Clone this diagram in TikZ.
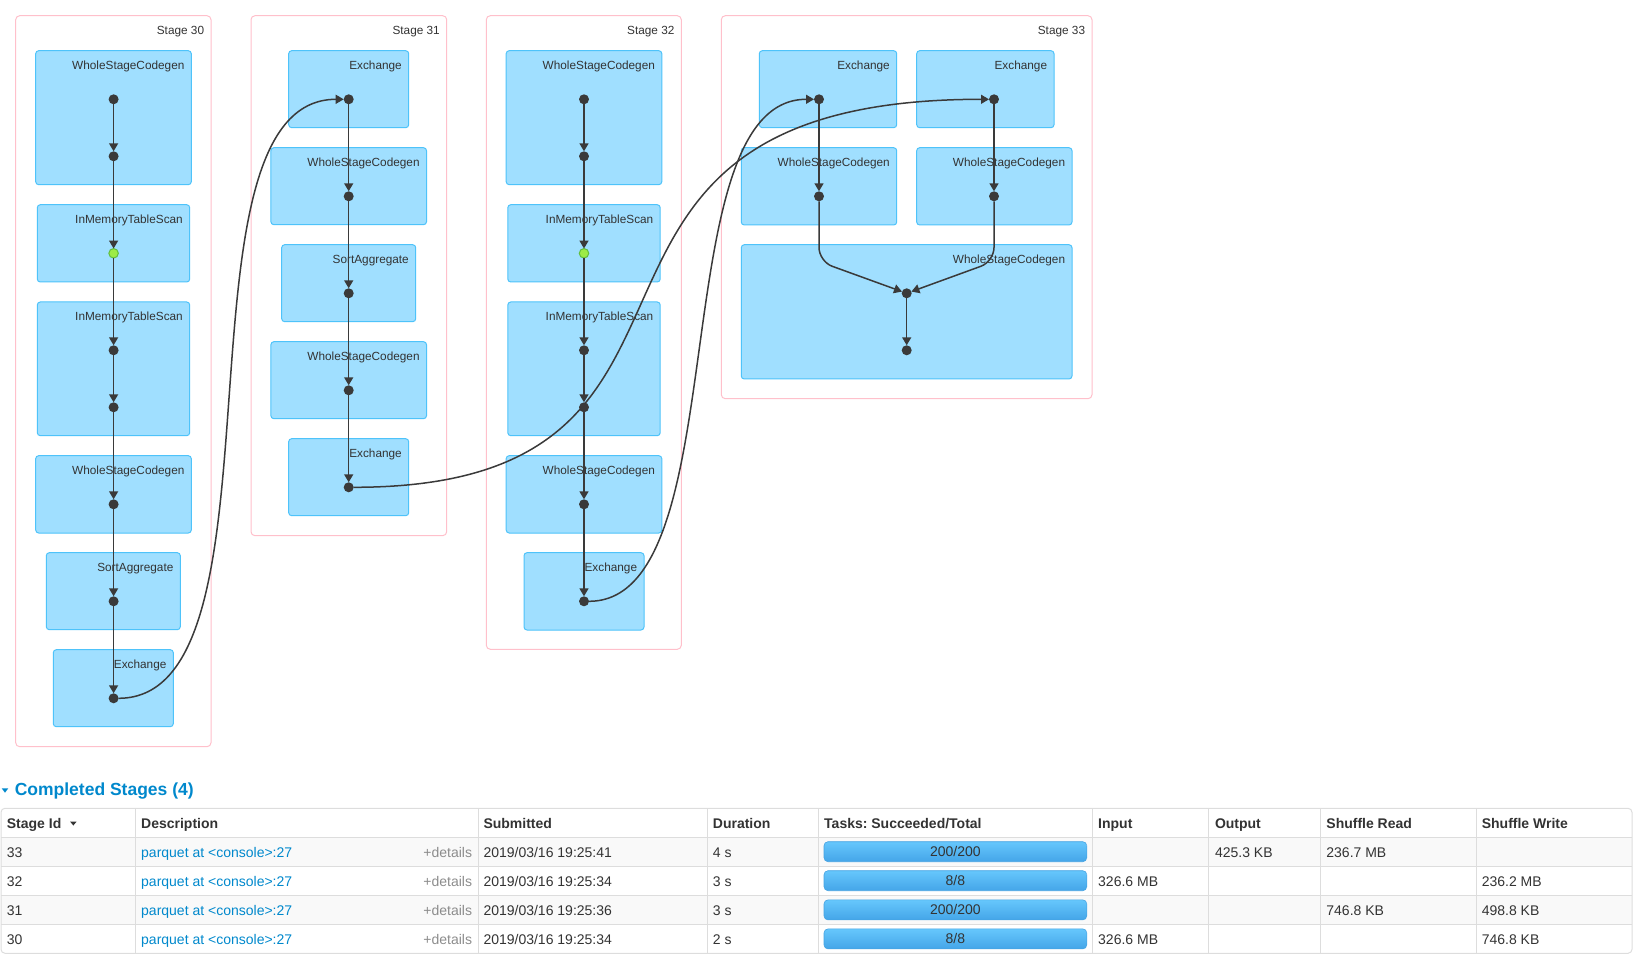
\documentclass[tikz,border=0pt]{standalone}
\usepackage{fontspec}
\setmainfont{Liberation Sans}
\usepackage{xcolor}
\usetikzlibrary{arrows.meta, calc}

\definecolor{opfill}{HTML}{A0DFFF}
\definecolor{opdraw}{HTML}{4EC3FA}
\definecolor{stagedraw}{HTML}{FFC0CB}
\definecolor{edgegray}{HTML}{3A3A3A}
\definecolor{cachefill}{HTML}{9DEB47}
\definecolor{cachedraw}{HTML}{62BE3E}
\definecolor{txt}{HTML}{333333}
\definecolor{link}{HTML}{0088CC}
\definecolor{gridgray}{HTML}{DDDDDD}
\definecolor{stripe}{HTML}{F9F9F9}
\definecolor{muted}{HTML}{8C8C8C}
\definecolor{bartop}{HTML}{66C7FC}
\definecolor{barbot}{HTML}{44A5E8}
\definecolor{bardraw}{HTML}{45A3E2}

\begin{document}
\frenchspacing
\begin{tikzpicture}[x=1pt, y=-1pt, >={Triangle[length=8pt, width=9pt]},
  every node/.style={text=txt},
  stagebox/.style={draw=stagedraw, line width=1pt, fill=white, rounded corners=4pt, inner sep=0pt, outer sep=0pt},
  opbox/.style={draw=opdraw, line width=1pt, fill=opfill, rounded corners=3pt, inner sep=0pt, outer sep=0pt},
  boxlabel/.style={anchor=base east, inner sep=0pt, font=\fontsize{11.8pt}{14pt}\selectfont},
  rdd/.style={circle, fill=edgegray, inner sep=0pt, outer sep=0pt, minimum size=10pt},
  cached/.style={rdd, fill=cachefill, draw=cachedraw, line width=1pt, minimum size=9.5pt},
  flow/.style={draw=edgegray, line width=1.5pt},
  cell/.style={anchor=west, inner sep=0pt, text height=10pt, text depth=0pt, font=\fontsize{14pt}{17pt}\selectfont},
  headcell/.style={cell, font=\fontsize{14pt}{17pt}\selectfont\bfseries},
  tablerule/.style={draw=gridgray, line width=1pt},
  taskbar/.style={cell, anchor=center, minimum width=262.8pt, minimum height=20pt, rounded corners=4pt, top color=bartop, bottom color=barbot, draw=bardraw, line width=0.6pt}]
  \useasboundingbox (0,0) rectangle (1633,957);

  % stages
  \node[stagebox, minimum width=195.3pt, minimum height=731pt] (stage30) at (113.35,381.2) {};
  \node[stagebox, minimum width=195.7pt, minimum height=520pt] (stage31) at (348.85,275.7) {};
  \node[stagebox, minimum width=195pt, minimum height=633.6pt] (stage32) at (583.8,332.5) {};
  \node[stagebox, minimum width=370.7pt, minimum height=383pt] (stage33) at (906.65,207.2) {};
  \node[boxlabel] (stage30t) at ($(stage30.north east)+(-6.7,18.8)$) {Stage 30};
  \node[boxlabel] (stage31t) at ($(stage31.north east)+(-6.7,18.8)$) {Stage 31};
  \node[boxlabel] (stage32t) at ($(stage32.north east)+(-6.7,18.8)$) {Stage 32};
  \node[boxlabel] (stage33t) at ($(stage33.north east)+(-6.7,18.8)$) {Stage 33};

  % stage 30
  \node[opbox, minimum width=155.6pt, minimum height=134pt] (wsc30a) at (113.5,117.7) {};
  \node[opbox, minimum width=152.4pt, minimum height=77.3pt] (imts30a) at (113.5,243.35) {};
  \node[opbox, minimum width=152.4pt, minimum height=133.7pt] (imts30b) at (113.5,368.85) {};
  \node[opbox, minimum width=155.6pt, minimum height=77.3pt] (wsc30b) at (113.5,494.35) {};
  \node[opbox, minimum width=134pt, minimum height=77pt] (agg30) at (113.3,591.2) {};
  \node[opbox, minimum width=120pt, minimum height=77pt] (exch30) at (113.3,688.2) {};
  \node[boxlabel] (wsc30at) at ($(wsc30a.north east)+(-6.7,18.8)$) {WholeStageCodegen};
  \node[boxlabel] (imts30at) at ($(imts30a.north east)+(-6.7,18.8)$) {InMemoryTableScan};
  \node[boxlabel] (imts30bt) at ($(imts30b.north east)+(-6.7,18.8)$) {InMemoryTableScan};
  \node[boxlabel] (wsc30bt) at ($(wsc30b.north east)+(-6.7,18.8)$) {WholeStageCodegen};
  \node[boxlabel] (agg30t) at ($(agg30.north east)+(-6.7,18.8)$) {SortAggregate};
  \node[boxlabel] (exch30t) at ($(exch30.north east)+(-6.7,18.8)$) {Exchange};

  % stage 31
  \node[opbox, minimum width=120pt, minimum height=77pt] (exch31a) at (348.7,89.2) {};
  \node[opbox, minimum width=155.6pt, minimum height=77pt] (wsc31a) at (348.7,186.2) {};
  \node[opbox, minimum width=134pt, minimum height=77pt] (agg31) at (348.7,283.2) {};
  \node[opbox, minimum width=155.6pt, minimum height=77pt] (wsc31b) at (348.7,380.2) {};
  \node[opbox, minimum width=120pt, minimum height=77pt] (exch31b) at (348.7,477.2) {};
  \node[boxlabel] (exch31at) at ($(exch31a.north east)+(-6.7,18.8)$) {Exchange};
  \node[boxlabel] (wsc31at) at ($(wsc31a.north east)+(-6.7,18.8)$) {WholeStageCodegen};
  \node[boxlabel] (agg31t) at ($(agg31.north east)+(-6.7,18.8)$) {SortAggregate};
  \node[boxlabel] (wsc31bt) at ($(wsc31b.north east)+(-6.7,18.8)$) {WholeStageCodegen};
  \node[boxlabel] (exch31bt) at ($(exch31b.north east)+(-6.7,18.8)$) {Exchange};

  % stage 32
  \node[opbox, minimum width=155.6pt, minimum height=134pt] (wsc32a) at (584,117.7) {};
  \node[opbox, minimum width=152.4pt, minimum height=77.3pt] (imts32a) at (584,243.35) {};
  \node[opbox, minimum width=152.4pt, minimum height=133.7pt] (imts32b) at (584,368.85) {};
  \node[opbox, minimum width=155.6pt, minimum height=77.3pt] (wsc32b) at (584,494.35) {};
  \node[opbox, minimum width=120pt, minimum height=77.3pt] (exch32) at (584,591.35) {};
  \node[boxlabel] (wsc32at) at ($(wsc32a.north east)+(-6.7,18.8)$) {WholeStageCodegen};
  \node[boxlabel] (imts32at) at ($(imts32a.north east)+(-6.7,18.8)$) {InMemoryTableScan};
  \node[boxlabel] (imts32bt) at ($(imts32b.north east)+(-6.7,18.8)$) {InMemoryTableScan};
  \node[boxlabel] (wsc32bt) at ($(wsc32b.north east)+(-6.7,18.8)$) {WholeStageCodegen};
  \node[boxlabel] (exch32t) at ($(exch32.north east)+(-6.7,18.8)$) {Exchange};

  % stage 33
  \node[opbox, minimum width=137.4pt, minimum height=77pt] (exch33a) at (828,89.2) {};
  \node[opbox, minimum width=137.3pt, minimum height=77pt] (exch33b) at (985.35,89.2) {};
  \node[opbox, minimum width=155.4pt, minimum height=77.3pt] (wsc33a) at (819,186.35) {};
  \node[opbox, minimum width=155.3pt, minimum height=77.3pt] (wsc33b) at (994.35,186.35) {};
  \node[opbox, minimum width=330.7pt, minimum height=134.3pt] (wsc33c) at (906.65,311.85) {};
  \node[boxlabel] (exch33at) at ($(exch33a.north east)+(-6.7,18.8)$) {Exchange};
  \node[boxlabel] (exch33bt) at ($(exch33b.north east)+(-6.7,18.8)$) {Exchange};
  \node[boxlabel] (wsc33at) at ($(wsc33a.north east)+(-6.7,18.8)$) {WholeStageCodegen};
  \node[boxlabel] (wsc33bt) at ($(wsc33b.north east)+(-6.7,18.8)$) {WholeStageCodegen};
  \node[boxlabel] (wsc33ct) at ($(wsc33c.north east)+(-6.7,18.8)$) {WholeStageCodegen};

  % rdd dots
  \node[rdd] (d30a) at (113.6,99.3) {};
  \node[rdd] (d30b) at (113.6,156.3) {};
  \node[cached] (d30c) at (113.6,253.3) {};
  \node[rdd] (d30d) at (113.6,350.3) {};
  \node[rdd] (d30e) at (113.6,407.3) {};
  \node[rdd] (d30f) at (113.6,504.3) {};
  \node[rdd] (d30g) at (113.6,601.3) {};
  \node[rdd] (d30h) at (113.6,698.3) {};
  \node[rdd] (d31a) at (348.7,99.3) {};
  \node[rdd] (d31b) at (348.7,196.3) {};
  \node[rdd] (d31c) at (348.7,293.3) {};
  \node[rdd] (d31d) at (348.7,390.3) {};
  \node[rdd] (d31e) at (348.7,487.3) {};
  \node[rdd] (d32a) at (584,99.3) {};
  \node[rdd] (d32b) at (584,156.3) {};
  \node[cached] (d32c) at (584,253.3) {};
  \node[rdd] (d32d) at (584,350.3) {};
  \node[rdd] (d32e) at (584,407.3) {};
  \node[rdd] (d32f) at (584,504.3) {};
  \node[rdd] (d32g) at (584,601.3) {};
  \node[rdd] (d33a) at (819,99.3) {};
  \node[rdd] (d33b) at (994,99.3) {};
  \node[rdd] (d33c) at (819,196.3) {};
  \node[rdd] (d33d) at (994,196.3) {};
  \node[rdd] (d33e) at (906.7,293.3) {};
  \node[rdd] (d33f) at (906.7,350.3) {};
  \coordinate (bend33a) at (819,261.5);
  \coordinate (bend33b) at (994,261.5);

  % edges inside stages
  \draw[flow, ->] (d30a) -- (d30b);
  \draw[flow, ->] (d30b) -- (d30c);
  \draw[flow, ->] (d30c) -- (d30d);
  \draw[flow, ->] (d30d) -- (d30e);
  \draw[flow, ->] (d30e) -- (d30f);
  \draw[flow, ->] (d30f) -- (d30g);
  \draw[flow, ->] (d30g) -- (d30h);
  \draw[flow, ->] (d31a) -- (d31b);
  \draw[flow, ->] (d31b) -- (d31c);
  \draw[flow, ->] (d31c) -- (d31d);
  \draw[flow, ->] (d31d) -- (d31e);
  \draw[flow, ->] (d32a) -- (d32b);
  \draw[flow, ->] (d32b) -- (d32c);
  \draw[flow, ->] (d32c) -- (d32d);
  \draw[flow, ->] (d32d) -- (d32e);
  \draw[flow, ->] (d32e) -- (d32f);
  \draw[flow, ->] (d32f) -- (d32g);
  \draw[flow, ->] (d33a) -- (d33c);
  \draw[flow, ->] (d33b) -- (d33d);
  \draw[flow, ->, rounded corners=14pt] (d33c) -- (bend33a) -- (d33e);
  \draw[flow, ->, rounded corners=14pt] (d33d) -- (bend33b) -- (d33e);
  \draw[flow, ->] (d33e) -- (d33f);

  % shuffle edges between stages
  \draw[flow, ->] (d30h) .. controls (295,698.3) and (164,99.3) .. (d31a);
  \draw[flow, ->] (d31e) .. controls (777,487.3) and (500,99.3) .. (d33b);
  \draw[flow, ->] (d32g) .. controls (739,601.3) and (660,99.3) .. (d33a);

  % completed stages table
  \fill[link] (1.7,788.3) -- (8.3,788.3) -- (5,792.7) -- cycle;
  \node[anchor=base west, inner sep=0pt, text=link, font=\fontsize{17.5pt}{20pt}\selectfont\bfseries] (heading) at (14.6,795) {Completed Stages (4)};
  \fill[stripe] (1,837.3) rectangle (1632,866.7);
  \fill[stripe] (1,895.7) rectangle (1632,924.3);
  \draw[tablerule] (1,837.3) -- (1632,837.3) (1,866.7) -- (1632,866.7) (1,895.7) -- (1632,895.7) (1,924.3) -- (1632,924.3);
  \draw[tablerule] (135.7,808.3) -- (135.7,953.3) (478.7,808.3) -- (478.7,953.3) (707.3,808.3) -- (707.3,953.3) (818.3,808.3) -- (818.3,953.3);
  \draw[tablerule] (1092,808.3) -- (1092,953.3) (1208.3,808.3) -- (1208.3,953.3) (1320.2,808.3) -- (1320.2,953.3) (1476.8,808.3) -- (1476.8,953.3);
  \draw[tablerule, rounded corners=4pt] (1,808.3) rectangle (1632,953.3);

  \node[headcell] (hid) at (6.7,823.3) {Stage Id};
  \fill[txt] (70,821.5) -- (76.7,821.5) -- (73.35,825.5) -- cycle;
  \node[headcell] (hdesc) at (141,823.3) {Description};
  \node[headcell] (hsub) at (483.3,823.3) {Submitted};
  \node[headcell] (hdur) at (712.7,823.3) {Duration};
  \node[headcell] (htask) at (824,823.3) {Tasks: Succeeded/Total};
  \node[headcell] (hin) at (1098,823.3) {Input};
  \node[headcell] (hout) at (1214.8,823.3) {Output};
  \node[headcell] (hsr) at (1326.2,823.3) {Shuffle Read};
  \node[headcell] (hsw) at (1481.6,823.3) {Shuffle Write};

  % row 33
  \node[cell] (id33) at (6.7,852.3) {33};
  \node[cell, text=link] (desc33) at (141,852.3) {parquet at <console>:27};
  \node[cell, anchor=east, text=muted] (more33) at (472.3,852.3) {+details};
  \node[cell] (sub33) at (483.3,852.3) {2019/03/16 19:25:41};
  \node[cell] (dur33) at (712.7,852.3) {4 s};
  \node[taskbar] (bar33) at (955.4,851.7) {200/200};
  \node[cell] (out33) at (1214.8,852.3) {425.3 KB};
  \node[cell] (sr33) at (1326.2,852.3) {236.7 MB};
  % row 32
  \node[cell] (id32) at (6.7,881.3) {32};
  \node[cell, text=link] (desc32) at (141,881.3) {parquet at <console>:27};
  \node[cell, anchor=east, text=muted] (more32) at (472.3,881.3) {+details};
  \node[cell] (sub32) at (483.3,881.3) {2019/03/16 19:25:34};
  \node[cell] (dur32) at (712.7,881.3) {3 s};
  \node[taskbar] (bar32) at (955.4,880.7) {8/8};
  \node[cell] (in32) at (1098,881.3) {326.6 MB};
  \node[cell] (sw32) at (1481.6,881.3) {236.2 MB};
  % row 31
  \node[cell] (id31) at (6.7,910.2) {31};
  \node[cell, text=link] (desc31) at (141,910.2) {parquet at <console>:27};
  \node[cell, anchor=east, text=muted] (more31) at (472.3,910.2) {+details};
  \node[cell] (sub31) at (483.3,910.2) {2019/03/16 19:25:36};
  \node[cell] (dur31) at (712.7,910.2) {3 s};
  \node[taskbar] (bar31) at (955.4,909.9) {200/200};
  \node[cell] (sr31) at (1326.2,910.2) {746.8 KB};
  \node[cell] (sw31) at (1481.6,910.2) {498.8 KB};
  % row 30
  \node[cell] (id30) at (6.7,939.1) {30};
  \node[cell, text=link] (desc30) at (141,939.1) {parquet at <console>:27};
  \node[cell, anchor=east, text=muted] (more30) at (472.3,939.1) {+details};
  \node[cell] (sub30) at (483.3,939.1) {2019/03/16 19:25:34};
  \node[cell] (dur30) at (712.7,939.1) {2 s};
  \node[taskbar] (bar30) at (955.4,938.9) {8/8};
  \node[cell] (in30) at (1098,939.1) {326.6 MB};
  \node[cell] (sw30) at (1481.6,939.1) {746.8 KB};
\end{tikzpicture}
\end{document}
